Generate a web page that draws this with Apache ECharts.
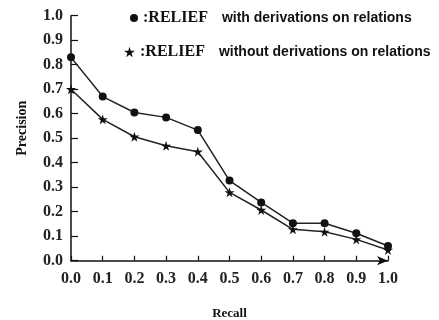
<!DOCTYPE html>
<html>
<head>
<meta charset="utf-8">
<script src="https://cdn.jsdelivr.net/npm/echarts@6/dist/echarts.min.js"></script>
<style>
  html, body { margin: 0; padding: 0; background: #fff; }
  #chart { width: 439px; height: 320px; }
</style>
</head>
<body>
<div id="chart"></div>
<script>
// recall levels and precision values
const recall = [0.0, 0.1, 0.2, 0.3, 0.4, 0.5, 0.6, 0.7, 0.8, 0.9, 1.0];
const withDeriv = [0.83, 0.67, 0.605, 0.585, 0.533, 0.327, 0.238, 0.153, 0.153, 0.112, 0.06];
const withoutDeriv = [0.70, 0.577, 0.506, 0.469, 0.445, 0.279, 0.207, 0.128, 0.118, 0.087, 0.044];

const starPath = 'path://M50,0 L61,35 L98,35 L68,57 L79,91 L50,70 L21,91 L32,57 L2,35 L39,35 Z';
const serif = '"Liberation Serif", "DejaVu Serif", serif';
const sans = '"Liberation Sans", Arial, sans-serif';

function legendText(label) {
    return '{a|:RELIEF}{b|' + label + '}';
}
const legendRich = {
    a: { fontFamily: serif, fontWeight: 'bold', fontSize: 16, color: '#111', padding: [0, 14, 0, 0] },
    b: { fontFamily: sans, fontWeight: 'bold', fontSize: 14, color: '#111' }
};

const chart = echarts.init(document.getElementById('chart'), null, {renderer: 'canvas'});
const option = {
    animation: false,
    backgroundColor: '#fff',
    grid: { left: 71, right: 51, top: 15.7, bottom: 59.3, containLabel: false, outerBoundsMode: 'none' },
    legend: [
        {
            data: [{name: 'with derivations on relations', icon: 'circle'}],
            left: 125, top: 5, itemWidth: 8, itemHeight: 8,
            formatter: legendText,
            textStyle: { rich: legendRich }
        },
        {
            data: [{name: 'without derivations on relations', icon: starPath}],
            left: 119, top: 39, itemWidth: 11, itemHeight: 11,
            formatter: legendText,
            textStyle: { rich: legendRich }
        }
    ],
    xAxis: {
        type: 'value',
        min: 0, max: 1, interval: 0.1,
        name: 'Recall',
        nameLocation: 'middle',
        nameGap: 46,
        nameTextStyle: { fontFamily: serif, fontWeight: 'bold', fontSize: 13, color: '#111' },
        axisLine: { lineStyle: { color: '#111', width: 1.5 }, symbol: ['none', 'arrow'], symbolSize: [7, 11] },
        axisTick: { inside: true, length: 5, lineStyle: { color: '#111', width: 1.2 } },
        axisLabel: {
            fontFamily: serif, fontWeight: 'bold', fontSize: 16, color: '#222', margin: 10,
            formatter: v => v.toFixed(1)
        },
        splitLine: { show: false }
    },
    yAxis: {
        type: 'value',
        min: 0, max: 1, interval: 0.1,
        name: 'Precision',
        nameLocation: 'middle',
        nameGap: 42,
        nameTextStyle: { fontFamily: serif, fontWeight: 'bold', fontSize: 14, color: '#111', padding: [0, 0, 0, 20] },
        axisLine: { show: true, lineStyle: { color: '#111', width: 1.5 } },
        axisTick: { show: true, inside: true, length: 7, lineStyle: { color: '#111', width: 1.2 } },
        axisLabel: {
            fontFamily: serif, fontWeight: 'bold', fontSize: 16, color: '#222', margin: 8,
            formatter: v => v.toFixed(1)
        },
        splitLine: { show: false }
    },
    series: [
        {
            name: 'with derivations on relations',
            type: 'line',
            data: recall.map((r, i) => [r, withDeriv[i]]),
            symbol: 'circle',
            symbolSize: 8,
            itemStyle: { color: '#111' },
            lineStyle: { color: '#222', width: 1.5 },
            z: 3
        },
        {
            name: 'without derivations on relations',
            type: 'line',
            data: recall.map((r, i) => [r, withoutDeriv[i]]),
            symbol: starPath,
            symbolSize: 10,
            itemStyle: { color: '#111' },
            lineStyle: { color: '#222', width: 1.5 },
            z: 2
        }
    ]
};
chart.setOption(option);
</script>
</body>
</html>
